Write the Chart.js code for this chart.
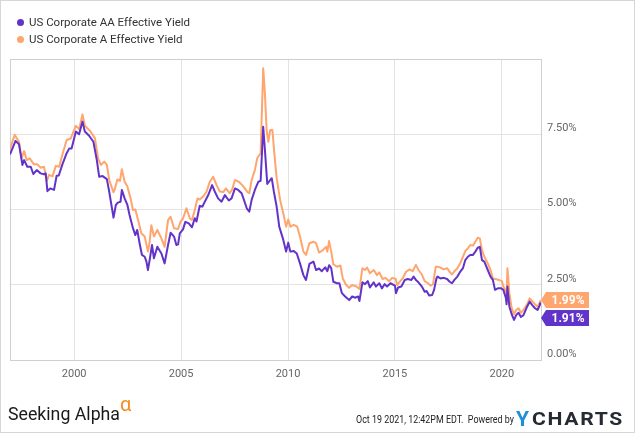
<!DOCTYPE html>
<html><head><meta charset="utf-8">
<script src="https://cdn.jsdelivr.net/npm/chart.js@4.4.0/dist/chart.umd.min.js"></script>
<style>
html,body{margin:0;padding:0;background:#fff;}
#wrap{position:relative;width:635px;height:433px;overflow:hidden;font-family:Roboto,"Noto Sans",sans-serif;}
#frame{position:absolute;left:0;top:0;width:633px;height:431px;border:1px solid #d6d6d6;pointer-events:none;}
#c{position:absolute;left:0;top:0;}
.dot{position:absolute;width:7px;height:7px;border-radius:50%;}
.txt{position:absolute;white-space:nowrap;transform-origin:0 50%;}
.leg{font-size:11.5px;color:#333;line-height:14px;}
</style></head>
<body>
<div id="wrap">
<canvas id="c" width="635" height="433"></canvas>
<div class="dot" style="left:17px;top:19px;background:#6233C8"></div>
<div class="txt leg" style="left:29px;top:15px;">US Corporate AA Effective Yield</div>
<div class="dot" style="left:17px;top:35.5px;background:#FFA56E"></div>
<div class="txt leg" style="left:29px;top:32px;">US Corporate A Effective Yield</div>
<div class="txt" id="sa" style="left:8px;top:404px;font-size:18px;line-height:20px;color:#1a1a1a;">Seeking Alpha</div>
<div class="txt" id="alpha" style="left:120px;top:394px;font-size:20px;line-height:20px;color:#F68B1F;">α</div>
<div class="txt" id="stamp" style="left:356px;top:413px;font-size:11px;line-height:14px;color:#222;">Oct 19 2021, 12:42PM EDT.&nbsp; Powered by</div>
<div class="txt" id="ylogo" style="left:516px;top:408px;font-size:21px;line-height:22px;font-weight:bold;color:#1E8FD8;">Y</div>
<div class="txt" id="charts" style="left:532px;top:409px;font-size:19px;line-height:20px;font-weight:bold;color:#252a33;letter-spacing:1.5px;">CHARTS</div>
<div id="frame"></div>
</div>
<script>
// ---- data (decimal years, percent) ----
const aaDates = [1997.00,1997.26,1997.42,1997.58,1997.66,1997.81,1997.97,1998.09,1998.25,1998.43,1998.59,1998.67,1998.75,1998.88,1999.06,1999.18,1999.28,1999.45,1999.65,1999.77,1999.88,2000.08,2000.23,2000.39,2000.50,2000.70,2000.90,2001.06,2001.17,2001.33,2001.53,2001.64,2001.84,2001.95,2002.04,2002.17,2002.23,2002.36,2002.49,2002.59,2002.75,2002.86,2002.95,2003.06,2003.17,2003.30,2003.38,2003.45,2003.53,2003.64,2003.73,2003.89,2004.08,2004.23,2004.39,2004.51,2004.67,2004.78,2004.86,2004.94,2005.09,2005.20,2005.36,2005.51,2005.64,2005.72,2005.87,2006.00,2006.11,2006.27,2006.45,2006.58,2006.73,2006.89,2007.05,2007.23,2007.36,2007.52,2007.67,2007.83,2007.94,2008.07,2008.19,2008.30,2008.45,2008.61,2008.72,2008.84,2008.92,2009.03,2009.17,2009.24,2009.34,2009.47,2009.59,2009.78,2009.91,2010.01,2010.11,2010.27,2010.41,2010.56,2010.72,2010.84,2011.00,2011.19,2011.31,2011.45,2011.58,2011.74,2011.84,2011.92,2012.02,2012.12,2012.29,2012.40,2012.52,2012.67,2012.86,2013.00,2013.15,2013.28,2013.34,2013.48,2013.60,2013.73,2013.83,2014.01,2014.11,2014.27,2014.39,2014.52,2014.63,2014.79,2015.00,2015.05,2015.15,2015.30,2015.46,2015.60,2015.77,2015.87,2015.98,2016.10,2016.26,2016.39,2016.48,2016.60,2016.74,2016.83,2016.94,2016.99,2017.13,2017.28,2017.44,2017.56,2017.67,2017.78,2017.92,2018.05,2018.18,2018.29,2018.41,2018.52,2018.65,2018.76,2018.87,2018.97,2019.07,2019.18,2019.34,2019.47,2019.58,2019.68,2019.81,2019.97,2020.07,2020.19,2020.22,2020.26,2020.35,2020.46,2020.57,2020.67,2020.78,2020.89,2021.01,2021.18,2021.30,2021.41,2021.55,2021.67,2021.78,2021.80];
const aaYields = [6.83,7.28,7.17,6.48,6.64,6.42,6.42,6.18,6.31,6.20,6.17,6.20,5.61,5.70,5.65,6.12,6.13,6.50,6.87,7.03,7.03,7.59,7.50,7.92,7.59,7.45,7.25,6.64,6.09,6.11,6.01,5.59,4.73,5.15,5.23,5.26,5.65,5.37,5.15,4.82,4.38,4.15,4.32,3.88,3.49,3.43,3.27,2.99,3.32,3.82,3.38,3.76,3.54,3.21,3.82,4.23,4.10,3.82,3.84,4.21,4.34,4.59,4.54,4.41,4.71,4.60,5.12,5.10,5.26,5.48,5.81,5.59,5.37,5.26,5.48,5.30,5.37,5.70,5.65,5.54,5.32,5.04,4.93,5.32,5.65,5.92,5.95,7.75,6.98,5.85,5.98,6.04,5.59,5.09,4.43,3.99,3.60,3.90,3.60,3.62,3.54,3.21,2.82,2.66,3.19,3.27,2.99,3.04,2.95,3.08,2.95,3.15,3.05,2.60,2.55,2.55,2.22,2.11,1.99,2.11,2.07,2.11,1.96,2.58,2.52,2.62,2.41,2.58,2.44,2.55,2.38,2.52,2.44,2.55,2.47,2.22,2.41,2.44,2.66,2.69,2.66,2.77,2.66,2.58,2.44,2.27,2.29,2.14,2.16,2.33,2.71,2.77,2.71,2.73,2.69,2.60,2.55,2.66,2.77,2.93,3.05,3.32,3.43,3.49,3.49,3.60,3.73,3.76,3.32,3.27,2.99,2.77,2.66,2.33,2.38,2.38,2.33,2.05,1.85,2.44,1.78,1.52,1.33,1.49,1.57,1.43,1.49,1.77,1.94,1.83,1.72,1.66,1.83,1.91];
const aDates = [1997.00,1997.22,1997.42,1997.54,1997.66,1997.78,1997.92,1998.12,1998.28,1998.43,1998.59,1998.72,1998.83,1998.99,1999.14,1999.30,1999.45,1999.65,1999.84,2000.08,2000.23,2000.39,2000.50,2000.75,2000.97,2001.12,2001.25,2001.41,2001.53,2001.64,2001.84,2001.89,2002.02,2002.14,2002.23,2002.36,2002.49,2002.64,2002.75,2002.86,2003.01,2003.14,2003.30,2003.45,2003.53,2003.61,2003.73,2003.89,2004.08,2004.23,2004.39,2004.51,2004.67,2004.86,2004.97,2005.09,2005.25,2005.41,2005.51,2005.64,2005.77,2005.87,2006.03,2006.19,2006.34,2006.50,2006.66,2006.81,2006.97,2007.10,2007.27,2007.38,2007.52,2007.70,2007.86,2007.98,2008.09,2008.19,2008.30,2008.45,2008.56,2008.66,2008.72,2008.84,2008.92,2009.00,2009.08,2009.17,2009.27,2009.36,2009.47,2009.63,2009.78,2009.91,2010.01,2010.11,2010.27,2010.43,2010.56,2010.72,2010.84,2011.00,2011.19,2011.31,2011.45,2011.63,2011.78,2011.84,2011.92,2012.02,2012.12,2012.29,2012.45,2012.56,2012.72,2012.86,2013.00,2013.20,2013.34,2013.48,2013.60,2013.70,2013.83,2014.01,2014.16,2014.27,2014.42,2014.55,2014.73,2014.87,2015.04,2015.10,2015.20,2015.36,2015.52,2015.68,2015.83,2015.98,2016.10,2016.26,2016.39,2016.55,2016.66,2016.78,2016.91,2016.99,2017.13,2017.28,2017.44,2017.56,2017.67,2017.78,2017.92,2018.05,2018.18,2018.29,2018.41,2018.52,2018.65,2018.76,2018.87,2018.97,2019.07,2019.18,2019.34,2019.47,2019.58,2019.70,2019.86,2020.00,2020.07,2020.19,2020.22,2020.26,2020.35,2020.46,2020.57,2020.67,2020.78,2020.89,2021.01,2021.18,2021.30,2021.41,2021.55,2021.67,2021.78,2021.80];
const aYields = [7.01,7.48,7.25,6.70,6.94,6.64,6.70,6.50,6.50,6.39,6.42,5.95,6.15,6.10,6.45,6.42,6.83,7.31,7.36,7.78,7.67,8.16,7.78,7.61,7.37,6.70,6.48,6.59,6.48,5.98,5.57,5.65,6.00,5.95,6.34,5.92,5.76,5.37,4.98,5.00,4.59,4.21,4.10,3.60,3.93,4.48,4.10,4.32,4.04,3.76,4.65,4.76,4.38,4.35,4.59,4.70,5.04,4.70,4.65,4.98,5.37,5.33,5.43,5.59,5.92,6.09,5.81,5.60,5.58,5.70,5.54,5.65,5.98,5.92,5.81,5.70,5.59,5.54,5.98,6.31,6.70,6.81,6.87,9.69,8.86,7.64,7.25,7.64,7.64,6.87,6.04,5.32,4.87,4.43,4.67,4.43,4.49,4.43,4.10,3.60,3.49,3.88,3.93,3.88,3.57,3.65,3.76,3.60,3.95,3.60,3.18,3.10,3.14,2.71,2.49,2.40,2.49,2.44,2.36,3.05,2.99,3.07,2.88,2.99,2.82,2.91,2.69,2.73,2.62,2.73,2.69,2.49,2.58,2.71,2.93,3.01,2.95,3.16,2.99,2.84,2.62,2.55,2.47,2.51,3.10,3.10,3.07,3.01,3.05,2.93,2.84,2.95,3.05,3.21,3.43,3.62,3.71,3.82,3.80,3.93,4.06,4.04,3.65,3.43,3.21,2.99,2.71,2.69,2.66,2.62,2.44,2.27,2.16,3.05,2.22,1.72,1.52,1.66,1.72,1.57,1.66,1.85,2.05,1.96,1.85,1.77,1.92,1.99];
const xTicks = [2000, 2005, 2010, 2015, 2020];
const yTicks = [0, 2.5, 5, 7.5];
const seriesNames = ['US Corporate AA Effective Yield', 'US Corporate A Effective Yield'];
const AA_COLOR = '#6233C8', A_COLOR = '#FFA56E';

const framePlugin = {
  id: 'frame',
  beforeDatasetsDraw(chart) {
    const {ctx, chartArea: a} = chart;
    ctx.save();
    ctx.strokeStyle = '#cfcfcf';
    ctx.lineWidth = 1;
    ctx.strokeRect(Math.round(a.left) + 0.5, Math.round(a.top) + 0.5, Math.round(a.right - a.left), Math.round(a.bottom - a.top));
    ctx.restore();
  }
};

const flagPlugin = {
  id: 'flags',
  afterDatasetsDraw(chart) {
    const {ctx, chartArea: a, scales} = chart;
    const flags = chart.data.datasets.map(ds => {
      const last = ds.data[ds.data.length - 1];
      return {v: last.y, y: scales.y.getPixelForValue(last.y), color: ds.borderColor};
    }).sort((p, q) => p.y - q.y);
    const h = 16, gap = 18;
    for (let i = 1; i < flags.length; i++) {
      if (flags[i].y < flags[i - 1].y + gap) flags[i].y = flags[i - 1].y + gap;
    }
    ctx.save();
    flags.forEach(f => {
      const x0 = a.right, y = f.y;
      ctx.fillStyle = f.color;
      ctx.beginPath();
      ctx.moveTo(x0, y);
      ctx.lineTo(x0 + 5, y - h / 2);
      ctx.lineTo(x0 + 48, y - h / 2);
      ctx.lineTo(x0 + 48, y + h / 2);
      ctx.lineTo(x0 + 5, y + h / 2);
      ctx.closePath();
      ctx.fill();
      ctx.fillStyle = '#fff';
      ctx.font = 'bold 12px Roboto';
      ctx.textAlign = 'center';
      ctx.textBaseline = 'middle';
      ctx.fillText(f.v.toFixed(2) + '%', x0 + 27, y + 0.5);
    });
    ctx.restore();
  }
};

const tickFont = {family: 'Roboto', size: 11};
new Chart(document.getElementById('c'), {
  type: 'line',
  data: {
    datasets: [
      {label: seriesNames[0], data: aaDates.map((d, i) => ({x: d, y: aaYields[i]})), borderColor: AA_COLOR, backgroundColor: AA_COLOR, borderWidth: 2, pointRadius: 0, tension: 0, fill: false, borderJoinStyle: 'round'},
      {label: seriesNames[1], data: aDates.map((d, i) => ({x: d, y: aYields[i]})), borderColor: A_COLOR, backgroundColor: A_COLOR, borderWidth: 2, pointRadius: 0, tension: 0, fill: false, borderJoinStyle: 'round'}
    ]
  },
  options: {
    responsive: false, animation: false, devicePixelRatio: 1,
    layout: {padding: {left: 10, top: 59, right: 0, bottom: 0}},
    plugins: {legend: {display: false}, tooltip: {enabled: false}},
    scales: {
      x: {
        type: 'linear', min: 1997, max: 2021.83,
        afterBuildTicks: s => { s.ticks = xTicks.map(v => ({value: v})); },
        afterFit: s => { s.height = 73; },
        grid: {color: '#e3e3e3', drawTicks: false},
        border: {display: false},
        ticks: {padding: 8, color: '#666', font: tickFont, autoSkip: false, maxRotation: 0, callback: v => String(v)}
      },
      y: {
        position: 'right', min: 0, max: 10,
        afterBuildTicks: s => { s.ticks = yTicks.map(v => ({value: v})); },
        afterFit: s => { s.width = 94; },
        grid: {color: '#e3e3e3', drawTicks: false},
        border: {display: false},
        ticks: {padding: 6, labelOffset: -6, color: '#666', font: tickFont, callback: v => Number(v).toFixed(2) + '%'}
      }
    }
  },
  plugins: [framePlugin, flagPlugin]
});

// fit footer texts to the reference widths
function fit(id, w) {
  const el = document.getElementById(id);
  const r = el.getBoundingClientRect().width;
  if (r > 0) el.style.transform = 'scaleX(' + (w / r) + ')';
}
fit('sa', 112);
fit('stamp', 158);
fit('charts', 92);
</script>
</body></html>
